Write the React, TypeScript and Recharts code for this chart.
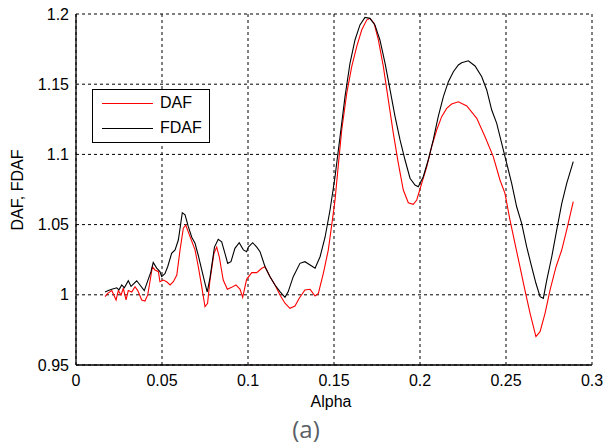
import React from 'react';
import { LineChart, Line, XAxis, YAxis, CartesianGrid, Legend } from 'recharts';

const xTicks = [0, 0.05, 0.1, 0.15, 0.2, 0.25, 0.3];
const xTickLabels = ['0', '0.05', '0.1', '0.15', '0.2', '0.25', '0.3'];
const yTicks = [0.95, 1, 1.05, 1.1, 1.15, 1.2];
const yTickLabels = ['0.95', '1', '1.05', '1.1', '1.15', '1.2'];

const dafAlpha = [
  0.0169, 0.0184, 0.0208, 0.0233, 0.0246, 0.0262, 0.0275, 0.0291, 0.0304, 0.0324,
  0.0343, 0.0359, 0.0382, 0.0401, 0.0417, 0.0430, 0.0444, 0.0459, 0.0479, 0.0488,
  0.0508, 0.0527, 0.0547, 0.0566, 0.0586, 0.0605, 0.0624, 0.0638, 0.0663, 0.0692,
  0.0711, 0.0731, 0.0750, 0.0765, 0.0779, 0.0802, 0.0818, 0.0833, 0.0856, 0.0880,
  0.0905, 0.0930, 0.0954, 0.0969, 0.0992, 0.1022, 0.1051, 0.1080, 0.1099, 0.1128,
  0.1157, 0.1186, 0.1215, 0.1244, 0.1273, 0.1298, 0.1331, 0.1361, 0.1390, 0.1409,
  0.1438, 0.1467, 0.1487, 0.1506, 0.1531, 0.1545, 0.1574, 0.1603, 0.1632, 0.1661,
  0.1690, 0.1709, 0.1733, 0.1758, 0.1787, 0.1816, 0.1845, 0.1874, 0.1903, 0.1932,
  0.1961, 0.1981, 0.2010, 0.2039, 0.2068, 0.2097, 0.2126, 0.2155, 0.2184, 0.2223,
  0.2272, 0.2330, 0.2378, 0.2426, 0.2465, 0.2494, 0.2523, 0.2552, 0.2581, 0.2610,
  0.2640, 0.2674, 0.2698, 0.2727, 0.2756, 0.2791, 0.2824, 0.2853, 0.2891,
];
const dafValue = [
  0.9987, 1.001, 1.003, 0.9963, 1.003, 0.9999, 1.0046, 0.9963, 1.003, 1.002,
  1.0058, 1.003, 0.9963, 0.9956, 0.9999, 1.0093, 1.02, 1.0177, 1.0165, 1.0093,
  1.0105, 1.0093, 1.007, 1.0093, 1.0141, 1.032, 1.0474, 1.0497, 1.0414, 1.032,
  1.02, 1.0058, 0.9915, 0.994, 1.0105, 1.0295, 1.034, 1.0271, 1.0105, 1.0039,
  1.0053, 1.007, 1.0039, 0.9982, 1.011, 1.0158, 1.0158, 1.0189, 1.02, 1.0129,
  1.007, 0.9999, 0.994, 0.9904, 0.992, 0.9975, 1.0034, 1.0039, 0.9991, 1.001,
  1.0153, 1.032, 1.05, 1.0675, 1.1, 1.1174, 1.1435, 1.1625, 1.1767, 1.1886,
  1.1957, 1.1969, 1.1934, 1.1815, 1.1625, 1.1387, 1.115, 1.0936, 1.0746, 1.0656,
  1.0644, 1.0675, 1.0794, 1.0912, 1.1055, 1.1174, 1.1269, 1.1328, 1.1359, 1.1375,
  1.1345, 1.1257, 1.1126, 1.0984, 1.0818, 1.0723, 1.0533, 1.0367, 1.02, 1.0034,
  0.9868, 0.9702, 0.9737, 0.9868, 1.0034, 1.02, 1.0319, 1.0462, 1.0663,
];

const fdafAlpha = [
  0.0169, 0.0188, 0.0208, 0.0237, 0.0250, 0.0266, 0.0281, 0.0304, 0.0320, 0.0353,
  0.0372, 0.0397, 0.0420, 0.0436, 0.0449, 0.0469, 0.0488, 0.0498, 0.0517, 0.0533,
  0.0556, 0.0576, 0.0595, 0.0618, 0.0634, 0.0653, 0.0673, 0.0692, 0.0711, 0.0731,
  0.0750, 0.0763, 0.0779, 0.0805, 0.0827, 0.0847, 0.0866, 0.0882, 0.0901, 0.0924,
  0.0949, 0.0973, 0.0992, 0.1002, 0.1027, 0.1051, 0.1070, 0.1099, 0.1128, 0.1157,
  0.1186, 0.1215, 0.1234, 0.1263, 0.1302, 0.1331, 0.1361, 0.1390, 0.1419, 0.1448,
  0.1477, 0.1506, 0.1535, 0.1564, 0.1593, 0.1622, 0.1651, 0.1680, 0.1709, 0.1738,
  0.1767, 0.1797, 0.1826, 0.1855, 0.1884, 0.1913, 0.1942, 0.1971, 0.1990, 0.2019,
  0.2048, 0.2077, 0.2106, 0.2136, 0.2165, 0.2194, 0.2223, 0.2242, 0.2281, 0.2320,
  0.2359, 0.2388, 0.2417, 0.2446, 0.2475, 0.2504, 0.2533, 0.2562, 0.2591, 0.2620,
  0.2649, 0.2674, 0.2698, 0.2717, 0.2737, 0.2766, 0.2795, 0.2824, 0.2853, 0.2891,
];
const fdafValue = [
  1.002, 1.003, 1.004, 1.005, 1.0035, 1.007, 1.005, 1.01, 1.006, 1.01,
  1.007, 1.003, 1.011, 1.0165, 1.023, 1.019, 1.0165, 1.013, 1.015, 1.02,
  1.0295, 1.032, 1.039, 1.0585, 1.057, 1.0485, 1.041, 1.0367, 1.028, 1.0177,
  1.0082, 1.002, 1.012, 1.034, 1.0395, 1.0378, 1.0295, 1.0224, 1.0236, 1.0331,
  1.0371, 1.032, 1.0307, 1.034, 1.0371, 1.034, 1.0307, 1.02, 1.0129, 1.007,
  1.0023, 0.9982, 1.0023, 1.0129, 1.0224, 1.0236, 1.0212, 1.0189, 1.0271, 1.041,
  1.0604, 1.0841, 1.1126, 1.1411, 1.1649, 1.1815, 1.1922, 1.1976, 1.1969, 1.1922,
  1.1815, 1.1649, 1.1459, 1.1269, 1.1103, 1.096, 1.083, 1.0782, 1.077, 1.0841,
  1.096, 1.1103, 1.1269, 1.1411, 1.1518, 1.1589, 1.1637, 1.1653, 1.1667, 1.163,
  1.1553, 1.1459, 1.1316, 1.1221, 1.1079, 1.0936, 1.0794, 1.0627, 1.0509, 1.0343,
  1.02, 1.0082, 0.9987, 0.9975, 1.0105, 1.0271, 1.0462, 1.065, 1.0794, 1.0948,
];

const dafData = dafAlpha.map((a, i) => ({ alpha: a, value: dafValue[i] }));
const fdafData = fdafAlpha.map((a, i) => ({ alpha: a, value: fdafValue[i] }));

const FONT = '"Liberation Sans", Arial, sans-serif';

const LegendBox = (props: any) => {
  const payload = props.payload || [];
  return (
    <div
      style={{
        width: 116,
        height: 52,
        border: '1px solid #000',
        background: '#fff',
        position: 'relative',
        fontFamily: FONT,
        fontSize: 16,
        color: '#000',
      }}
    >
      {payload.map((p: any, i: number) => (
        <div key={i} style={{ position: 'absolute', left: 0, top: 3 + i * 25, height: 20, width: 116 }}>
          <div style={{ position: 'absolute', left: 9, top: 10, width: 51, height: 0, borderTop: `1px solid ${p.color}` }} />
          <div style={{ position: 'absolute', left: 67, top: 0, lineHeight: '20px', whiteSpace: 'nowrap' }}>{p.value}</div>
        </div>
      ))}
    </div>
  );
};

export default function App() {
  return (
    <div style={{ position: 'absolute', left: 0, top: 0, width: 603, height: 448, background: '#fff' }}>
      <LineChart width={603} height={448} margin={{ top: 14, right: 11, bottom: 53, left: 16 }}>
        <CartesianGrid stroke="#000" strokeDasharray="3 3" horizontal vertical />
        <XAxis
          type="number"
          dataKey="alpha"
          domain={[0, 0.3]}
          ticks={xTicks}
          tickFormatter={(v: number) => xTickLabels[xTicks.indexOf(v)] ?? String(v)}
          tick={{ fill: '#000', fontSize: 16, fontFamily: FONT }}
          tickLine={false}
          tickSize={0}
          tickMargin={10}
          axisLine={{ stroke: '#000', strokeWidth: 1.3 }}
          height={30}
          allowDataOverflow
        />
        <XAxis
          xAxisId="top"
          orientation="top"
          type="number"
          domain={[0, 0.3]}
          ticks={xTicks}
          tick={false}
          tickLine={false}
          axisLine={{ stroke: '#000', strokeWidth: 1.3 }}
          height={0}
          allowDataOverflow
        />
        <YAxis
          type="number"
          dataKey="value"
          domain={[0.95, 1.2]}
          ticks={yTicks}
          tickFormatter={(v: number) => yTickLabels[yTicks.indexOf(v)] ?? String(v)}
          tick={{ fill: '#000', fontSize: 16, fontFamily: FONT }}
          tickLine={false}
          tickSize={0}
          tickMargin={7}
          axisLine={{ stroke: '#000', strokeWidth: 1.3 }}
          width={60}
          allowDataOverflow
        />
        <YAxis
          yAxisId="right"
          orientation="right"
          type="number"
          domain={[0.95, 1.2]}
          ticks={yTicks}
          tick={false}
          tickLine={false}
          axisLine={{ stroke: '#000', strokeWidth: 1.3 }}
          width={0}
          allowDataOverflow
        />
        <Line data={dafData} dataKey="value" name="DAF" stroke="#ff0000" strokeWidth={1.1} dot={false} isAnimationActive={false} type="linear" />
        <Line data={fdafData} dataKey="value" name="FDAF" stroke="#000000" strokeWidth={1.1} dot={false} isAnimationActive={false} type="linear" />
        <Legend
          layout="vertical"
          align="center"
          verticalAlign="middle"
          content={LegendBox}
          wrapperStyle={{ position: 'absolute', left: 92, top: 89, width: 118, height: 54, bottom: 'auto', right: 'auto' }}
        />
      </LineChart>
      <div style={{ position: 'absolute', left: 271, top: 393, width: 120, textAlign: 'center', fontFamily: FONT, fontSize: 16, color: '#000', lineHeight: '18px' }}>
        Alpha
      </div>
      <div
        style={{
          position: 'absolute',
          left: 18 - 60,
          top: 190 - 10,
          width: 120,
          height: 20,
          lineHeight: '20px',
          textAlign: 'center',
          fontFamily: FONT,
          fontSize: 16,
          color: '#000',
          transform: 'rotate(-90deg)',
          whiteSpace: 'nowrap',
        }}
      >
        DAF, FDAF
      </div>
      <div
        style={{
          position: 'absolute',
          left: 246,
          top: 414,
          width: 120,
          textAlign: 'center',
          fontFamily: '"Open Sans", "Noto Sans", sans-serif',
          fontSize: 24,
          color: '#5a5f66',
          lineHeight: '30px',
        }}
      >
        (a)
      </div>
    </div>
  );
}
